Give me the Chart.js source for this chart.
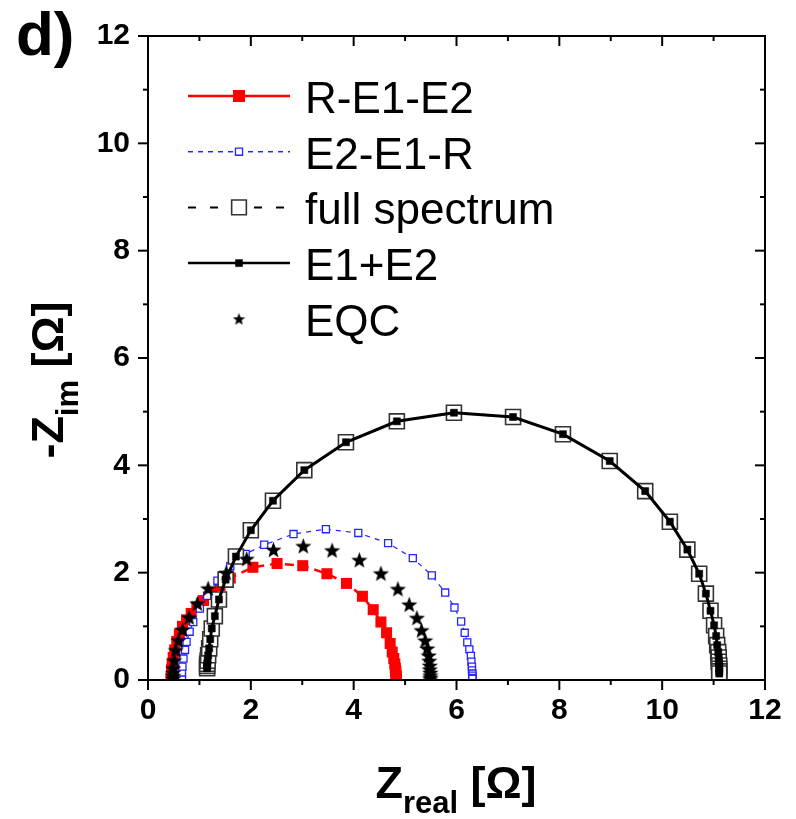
<!DOCTYPE html>
<html>
<head>
<meta charset="utf-8">
<title>Nyquist plot d)</title>
<script src="https://cdn.jsdelivr.net/npm/chart.js@4.4.1/dist/chart.umd.min.js"></script>
<style>
  html, body { margin: 0; padding: 0; background: #fff; }
  canvas { display: block; }
</style>
</head>
<body>
<canvas id="chart" width="796" height="819"></canvas>
<script>
// values (Z_real, -Z_im in ohm)
const redX = [0.45, 0.45, 0.46, 0.46, 0.47, 0.49, 0.52, 0.56, 0.61, 0.67, 0.75, 0.84, 0.95, 1.08, 1.24, 1.40, 1.60, 2.04, 2.51, 3.01, 3.48, 3.86, 4.17, 4.38, 4.53, 4.64, 4.71, 4.75, 4.78, 4.80, 4.81, 4.82, 4.82, 4.83, 4.83, 4.83];
const redY = [0.02, 0.06, 0.12, 0.20, 0.30, 0.42, 0.56, 0.72, 0.86, 1.00, 1.12, 1.24, 1.36, 1.48, 1.62, 1.76, 1.90, 2.10, 2.17, 2.13, 1.98, 1.80, 1.56, 1.31, 1.08, 0.88, 0.68, 0.52, 0.40, 0.30, 0.22, 0.16, 0.11, 0.07, 0.04, 0.02];

const blueX = [0.66, 0.66, 0.66, 0.67, 0.69, 0.72, 0.75, 0.81, 0.88, 1.01, 1.15, 1.35, 1.60, 1.90, 2.26, 2.83, 3.46, 4.09, 4.67, 5.15, 5.52, 5.78, 5.96, 6.09, 6.16, 6.21, 6.25, 6.28, 6.29, 6.30, 6.30, 6.31, 6.31, 6.31, 6.31];
const blueY = [0.02, 0.07, 0.14, 0.25, 0.40, 0.56, 0.71, 0.90, 1.08, 1.33, 1.57, 1.85, 2.12, 2.35, 2.52, 2.72, 2.81, 2.74, 2.55, 2.27, 1.95, 1.63, 1.35, 1.09, 0.88, 0.70, 0.57, 0.45, 0.34, 0.25, 0.18, 0.12, 0.08, 0.04, 0.02];

const spectrumX = [1.15, 1.15, 1.15, 1.16, 1.17, 1.19, 1.21, 1.24, 1.30, 1.38, 1.51, 1.71, 2.00, 2.43, 3.04, 3.85, 4.84, 5.95, 7.10, 8.07, 8.98, 9.67, 10.15, 10.49, 10.72, 10.85, 10.94, 11.01, 11.05, 11.07, 11.09, 11.10, 11.10, 11.11, 11.11, 11.11, 11.11];
const spectrumY = [0.22, 0.26, 0.30, 0.36, 0.46, 0.59, 0.76, 0.96, 1.19, 1.50, 1.87, 2.30, 2.79, 3.34, 3.91, 4.43, 4.82, 4.98, 4.90, 4.58, 4.08, 3.52, 2.95, 2.43, 1.98, 1.61, 1.29, 1.02, 0.82, 0.65, 0.52, 0.42, 0.34, 0.27, 0.21, 0.16, 0.12];

const eqcX = [0.49, 0.49, 0.49, 0.49, 0.51, 0.54, 0.59, 0.67, 0.80, 0.96, 1.17, 1.52, 1.92, 2.44, 3.02, 3.58, 4.11, 4.53, 4.86, 5.08, 5.23, 5.32, 5.39, 5.43, 5.46, 5.47, 5.48, 5.48, 5.49, 5.49, 5.49, 5.49];
const eqcY = [0.03, 0.08, 0.14, 0.22, 0.37, 0.56, 0.74, 0.94, 1.17, 1.43, 1.71, 2.00, 2.26, 2.43, 2.50, 2.42, 2.24, 1.99, 1.70, 1.41, 1.16, 0.93, 0.74, 0.59, 0.46, 0.36, 0.27, 0.20, 0.14, 0.09, 0.05, 0.02];

const seriesNames = ['R-E1-E2', 'E2-E1-R', 'full spectrum', 'E1+E2', 'EQC'];
const tickValues = [0, 1, 2, 3, 4, 5, 6, 7, 8, 9, 10, 11, 12];

const FONT = '"Liberation Sans", Arial, Helvetica, sans-serif';

function toPoints(xs, ys) {
  return xs.map((x, i) => ({ x: x, y: ys[i] }));
}

function makeStar(size) {
  const c = document.createElement('canvas');
  c.width = size; c.height = size;
  const g = c.getContext('2d');
  const R = size / 2, r = R * 0.42, cy = R + R * 0.1;
  g.fillStyle = '#000';
  g.beginPath();
  for (let i = 0; i < 10; i++) {
    const ang = -Math.PI / 2 + i * Math.PI / 5;
    const rad = i % 2 ? r : R;
    g.lineTo(R + rad * Math.cos(ang), cy + rad * Math.sin(ang));
  }
  g.closePath();
  g.fill();
  return c;
}
const starBig = makeStar(17);
const starSmall = makeStar(13);

const datasets = [
  {
    label: seriesNames[4],
    data: toPoints(eqcX, eqcY),
    showLine: false,
    pointStyle: starBig,
    legendStyle: starSmall,
    order: 0
  },
  {
    label: seriesNames[3],
    data: toPoints(spectrumX, spectrumY),
    showLine: true,
    borderColor: '#000',
    borderWidth: 3,
    pointStyle: 'rect',
    pointRadius: 5,
    pointBackgroundColor: '#000',
    pointBorderColor: '#000',
    pointBorderWidth: 0.5,
    legendRadius: 5,
    legendWidth: 2.5,
    order: 1
  },
  {
    label: seriesNames[2],
    data: toPoints(spectrumX, spectrumY),
    showLine: true,
    borderColor: '#000',
    borderWidth: 2,
    borderDash: [8, 14],
    pointStyle: 'rect',
    pointRadius: 10.6,
    pointBackgroundColor: '#fff',
    pointBorderColor: '#333',
    pointBorderWidth: 1.6,
    legendRadius: 10.4,
    legendWidth: 2,
    order: 2
  },
  {
    label: seriesNames[1],
    data: toPoints(blueX, blueY),
    showLine: true,
    borderColor: '#2424ff',
    borderWidth: 1.2,
    borderDash: [5, 5],
    pointStyle: 'rect',
    pointRadius: 5,
    pointBackgroundColor: '#fff',
    pointBorderColor: '#2424ff',
    pointBorderWidth: 1.3,
    legendRadius: 5,
    legendWidth: 1.5,
    order: 3
  },
  {
    label: seriesNames[0],
    data: toPoints(redX, redY),
    showLine: true,
    borderColor: '#ff0000',
    borderWidth: 2.5,
    borderDash: [9, 6],
    legendDash: [],
    pointStyle: 'rect',
    pointRadius: 7.8,
    pointBackgroundColor: '#ff0000',
    pointBorderColor: '#ff0000',
    pointBorderWidth: 0,
    legendRadius: 8.5,
    legendWidth: 2.5,
    order: 4
  }
];

function seg(ctx, x1, y1, x2, y2) {
  ctx.beginPath();
  ctx.moveTo(x1, y1);
  ctx.lineTo(x2, y2);
  ctx.stroke();
}

// frame, minor ticks, custom legend, axis titles, panel letter
const decorations = {
  id: 'decorations',
  afterDraw(chart) {
    const ctx = chart.ctx;
    const a = chart.chartArea;
    const xs = chart.scales.x, ys = chart.scales.y;
    ctx.save();
    ctx.strokeStyle = '#000';
    ctx.lineWidth = 2;
    ctx.strokeRect(a.left, a.top, a.right - a.left, a.bottom - a.top);
    tickValues.forEach(v => {
      const len = v % 2 === 0 ? 10 : 5;
      const px = xs.getPixelForValue(v);
      const py = ys.getPixelForValue(v);
      seg(ctx, px, a.bottom, px, a.bottom + len);
      seg(ctx, px, a.top, px, a.top + len);
      seg(ctx, a.left, py, a.left - len, py);
      seg(ctx, a.right, py, a.right - len, py);
    });

    // legend, top to bottom in the order of seriesNames
    seriesNames.forEach((name, row) => {
      const ds = chart.data.datasets.find(d => d.label === name);
      const cy = 96 + row * 55.7;
      if (ds.showLine) {
        ctx.strokeStyle = ds.borderColor;
        ctx.lineWidth = ds.legendWidth;
        ctx.setLineDash(ds.legendDash || ds.borderDash || []);
        seg(ctx, 188, cy, 290, cy);
        ctx.setLineDash([]);
      }
      ctx.fillStyle = ds.pointBackgroundColor || '#000';
      ctx.strokeStyle = ds.pointBorderColor || '#000';
      ctx.lineWidth = ds.pointBorderWidth || 0;
      Chart.helpers.drawPoint(ctx, {
        pointStyle: ds.legendStyle || ds.pointStyle,
        radius: ds.legendRadius || 6,
        rotation: 0,
        borderWidth: ds.pointBorderWidth || 0
      }, 239, cy);
      ctx.fillStyle = '#000';
      ctx.font = '44px ' + FONT;
      ctx.textAlign = 'left';
      ctx.textBaseline = 'alphabetic';
      ctx.fillText(name, 305, cy + 17);
    });

    // x title
    ctx.fillStyle = '#000';
    ctx.textBaseline = 'alphabetic';
    ctx.textAlign = 'left';
    const big = 'bold 45px ' + FONT, sub = 'bold 31px ' + FONT;
    ctx.font = big; const wZ = ctx.measureText('Z').width; const wU = ctx.measureText(' [Ω]').width;
    ctx.font = sub; const wS = ctx.measureText('real').width;
    let x0 = 456 - (wZ + wS + wU) / 2;
    ctx.font = big; ctx.fillText('Z', x0, 798);
    ctx.font = sub; ctx.fillText('real', x0 + wZ, 813);
    ctx.font = big; ctx.fillText(' [Ω]', x0 + wZ + wS, 798);

    // y title, rotated
    ctx.save();
    ctx.translate(63, 380);
    ctx.rotate(-Math.PI / 2);
    ctx.font = big; const wMZ = ctx.measureText('-Z').width;
    ctx.font = sub; const wI = ctx.measureText('im').width;
    x0 = -(wMZ + wI + wU) / 2;
    ctx.font = big; ctx.fillText('-Z', x0, 0);
    ctx.font = sub; ctx.fillText('im', x0 + wMZ, 15);
    ctx.font = big; ctx.fillText(' [Ω]', x0 + wMZ + wI, 0);
    ctx.restore();

    // panel letter
    ctx.font = 'bold 62px ' + FONT;
    ctx.fillText('d)', 16, 55);
    ctx.restore();
  }
};

const axisCommon = {
  type: 'linear',
  min: 0,
  max: 12,
  grid: { display: false, drawTicks: false },
  border: { display: false },
  ticks: {
    stepSize: 2,
    color: '#000',
    font: { family: FONT, size: 30, weight: 'bold' }
  }
};

new Chart(document.getElementById('chart').getContext('2d'), {
  type: 'scatter',
  data: { datasets: datasets },
  options: {
    responsive: false,
    animation: false,
    layout: { padding: { left: 0, right: 31, top: 33, bottom: 0 } },
    elements: { line: { tension: 0 } },
    plugins: { legend: { display: false }, tooltip: { enabled: false } },
    scales: {
      x: Object.assign({}, axisCommon, {
        position: 'bottom',
        ticks: Object.assign({}, axisCommon.ticks, { padding: 13, maxRotation: 0 }),
        afterFit: s => { s.height = 139; }
      }),
      y: Object.assign({}, axisCommon, {
        position: 'left',
        ticks: Object.assign({}, axisCommon.ticks, { padding: 18 }),
        afterFit: s => { s.width = 148; }
      })
    }
  },
  plugins: [decorations]
});
</script>
</body>
</html>
